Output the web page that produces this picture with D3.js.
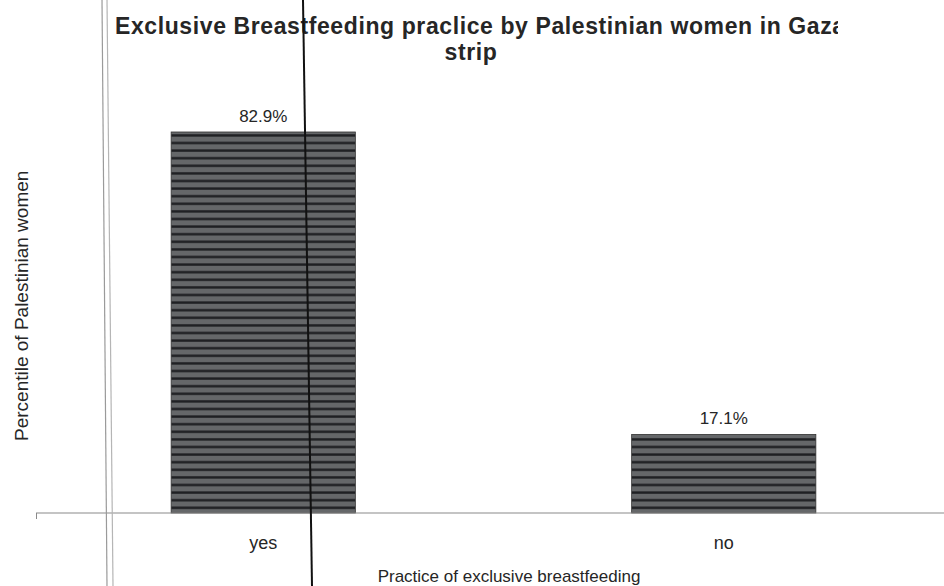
<!DOCTYPE html>
<html>
<head>
<meta charset="utf-8">
<script src="https://cdn.jsdelivr.net/npm/d3@7"></script>
<style>
  body { margin: 0; background: #fff; }
  #vis { width: 944px; height: 586px; }
  text { font-family: "Liberation Sans", Arial, sans-serif; fill: #262626; }
</style>
</head>
<body>
<div id="vis"></div>
<script>
// chart data
var categories = ['yes', 'no'];
var values = [82.9, 17.1];
var valueLabels = ['82.9%', '17.1%'];

var width = 944, height = 586;

var svg = d3.select('#vis')
    .append('svg')
    .attr('width', width)
    .attr('height', height);

// striped fill that mimics the scanned bars
var defs = svg.append('defs');
var pat = defs.append('pattern')
    .attr('id', 'stripes')
    .attr('patternUnits', 'userSpaceOnUse')
    .attr('width', 8)
    .attr('height', 7.6);
pat.append('rect').attr('width', 8).attr('height', 7.6).attr('fill', '#656769');
pat.append('rect').attr('y', 5).attr('width', 8).attr('height', 2.4).attr('fill', '#1e1f22');

defs.append('clipPath').attr('id', 'titleclip')
    .append('rect').attr('x', 0).attr('y', 0).attr('width', 838).attr('height', 80);
defs.append('clipPath').attr('id', 'yclip')
    .append('rect').attr('x', 0).attr('y', 169).attr('width', 60).attr('height', 400);

var x_scale = d3.scaleBand()
    .domain(categories)
    .range([33, 954])
    .paddingInner(0.6)
    .paddingOuter(0.3);

var y_scale = d3.scaleLinear()
    .domain([0, 100])
    .range([513, 53.4]);

// bars
svg.selectAll('.bar')
    .data(values)
    .enter()
    .append('rect')
    .attr('class', 'bar')
    .attr('x', function(d, i) { return x_scale(categories[i]); })
    .attr('width', x_scale.bandwidth())
    .attr('y', function(d) { return y_scale(d); })
    .attr('height', function(d) { return y_scale(0) - y_scale(d); })
    .attr('fill', 'url(#stripes)')
    .attr('stroke', '#333')
    .attr('stroke-width', 0.8);

// value labels
svg.selectAll('.val')
    .data(values)
    .enter()
    .append('text')
    .attr('class', 'val')
    .attr('x', function(d, i) { return x_scale(categories[i]) + x_scale.bandwidth() / 2; })
    .attr('y', function(d) { return y_scale(d) - 10; })
    .attr('text-anchor', 'middle')
    .style('font-size', '17px')
    .text(function(d, i) { return valueLabels[i]; });

// x axis
var x_axis = d3.axisBottom(x_scale).tickSize(0).tickPadding(23);
var gx = svg.append('g')
    .attr('transform', 'translate(0,' + y_scale(0) + ')')
    .call(x_axis);
gx.select('.domain').remove();
gx.selectAll('text')
    .style('font-size', '18px')
    .style('font-family', '"Liberation Sans", Arial, sans-serif')
    .attr('fill', '#262626');

svg.append('line')
    .attr('x1', 36).attr('x2', width)
    .attr('y1', y_scale(0)).attr('y2', y_scale(0))
    .attr('stroke', '#8a8a8a')
    .attr('stroke-width', 1.2);
svg.append('line')
    .attr('x1', 36.5).attr('x2', 36.5)
    .attr('y1', y_scale(0)).attr('y2', y_scale(0) + 6)
    .attr('stroke', '#8a8a8a');

// title
var title = svg.append('g').attr('clip-path', 'url(#titleclip)');
title.append('text')
    .attr('x', 115)
    .attr('y', 34)
    .style('font-size', '23px')
    .style('font-weight', 'bold')
    .style('letter-spacing', '0.6px')
    .text('Exclusive Breastfeeding praclice by Palestinian women in Gaza');
svg.append('text')
    .attr('x', 471)
    .attr('y', 60)
    .attr('text-anchor', 'middle')
    .style('font-size', '23px')
    .style('font-weight', 'bold')
    .style('letter-spacing', '0.6px')
    .text('strip');

// axis titles
svg.append('text')
    .attr('x', 509)
    .attr('y', 582)
    .attr('text-anchor', 'middle')
    .style('font-size', '17px')
    .text('Practice of exclusive breastfeeding');

svg.append('g').attr('clip-path', 'url(#yclip)')
  .append('text')
    .attr('transform', 'rotate(-90)')
    .attr('x', -441)
    .attr('y', 28)
    .attr('text-anchor', 'start')
    .style('font-size', '19px')
    .text('Percentile of Palestinian women');

// scan artefacts: folded-page lines
svg.append('line')
    .attr('x1', 102).attr('x2', 107)
    .attr('y1', 0).attr('y2', height)
    .attr('stroke', '#9a9a9a').attr('stroke-width', 1.2);
svg.append('line')
    .attr('x1', 107).attr('x2', 113)
    .attr('y1', 0).attr('y2', height)
    .attr('stroke', '#b5b5b5').attr('stroke-width', 1.2);
svg.append('line')
    .attr('x1', 303).attr('x2', 312)
    .attr('y1', 0).attr('y2', height)
    .attr('stroke', '#111').attr('stroke-width', 2);
</script>
</body>
</html>
